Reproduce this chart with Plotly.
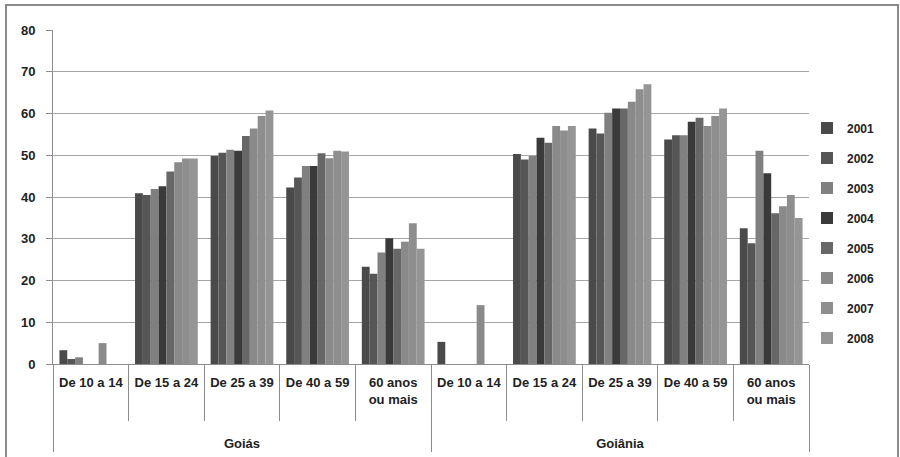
import plotly.graph_objects as go

regions = ["Goiás", "Goiânia"]
age_groups = ["De 10 a 14", "De 15 a 24", "De 25 a 39", "De 40 a 59", "60 anos<br>ou mais<br> <br> "]
years = ["2001", "2002", "2003", "2004", "2005", "2006", "2007", "2008"]

# values per year: Goiás (5 age groups) then Goiânia (5 age groups)
v2001 = [3.3, 40.9, 49.8, 42.3, 23.3, 5.3, 50.3, 56.4, 53.8, 32.5]
v2002 = [1.2, 40.5, 50.6, 44.7, 21.6, 0, 49.0, 55.2, 54.8, 28.9]
v2003 = [1.6, 41.9, 51.3, 47.4, 26.7, 0, 49.8, 60.2, 54.8, 51.1]
v2004 = [0, 42.6, 51.1, 47.4, 30.1, 0, 54.2, 61.2, 58.0, 45.7]
v2005 = [0, 46.1, 54.6, 50.5, 27.6, 0, 53.0, 61.2, 59.0, 36.1]
v2006 = [5.0, 48.3, 56.4, 49.3, 29.3, 14.1, 57.0, 62.8, 57.0, 37.8]
v2007 = [0, 49.2, 59.4, 51.1, 33.7, 0, 55.9, 65.8, 59.4, 40.5]
v2008 = [0, 49.2, 60.7, 50.9, 27.6, 0, 57.0, 67.0, 61.2, 35.0]

series = [v2001, v2002, v2003, v2004, v2005, v2006, v2007, v2008]
colors = ["#4a4a4a", "#565656", "#808080", "#3a3a3a", "#676767", "#8a8a8a", "#8e8e8e", "#959595"]

outer = [r for r in regions for _ in age_groups]
inner = [a for _ in regions for a in age_groups]

fig = go.Figure()
for yr, vals, c in zip(years, series, colors):
    fig.add_trace(go.Bar(
        x=[outer, inner], y=vals, name=yr,
        marker=dict(color=c, line=dict(width=0)),
        legendgroup=yr,
    ))

W, H = 900, 457

fig.update_layout(
    width=W, height=H,
    paper_bgcolor="white", plot_bgcolor="white",
    margin=dict(l=53, r=91, t=30, b=93, autoexpand=False),
    barmode="group", bargap=0.17, bargroupgap=0,
    font=dict(family="Liberation Sans, Arial, sans-serif", color="#222222"),
    showlegend=True,
    legend=dict(
        xref="container", yref="container",
        x=807 / W, y=1 - 113.5 / H, xanchor="left", yanchor="top",
        font=dict(family="Liberation Sans, Arial, sans-serif", size=12, color="#222222", weight="bold"),
        tracegroupgap=11, itemwidth=30, bgcolor="rgba(0,0,0,0)", maxheight=1,
    ),
    xaxis=dict(
        type="multicategory", automargin=False,
        showline=True, linecolor="#8c8c8c", linewidth=1,
        showdividers=True, dividercolor="#8c8c8c", dividerwidth=1,
        ticks="outside", tickson="boundaries", ticklen=56, tickcolor="#8c8c8c",
        tickangle=0, ticklabelstandoff=6,
        tickfont=dict(family="Liberation Sans, Arial, sans-serif", size=13, color="#222222", weight="bold"),
        showgrid=False,
    ),
    yaxis=dict(
        range=[0, 80], dtick=10, automargin=False,
        showgrid=True, gridcolor="#a6a6a6", gridwidth=1,
        showline=True, linecolor="#8c8c8c", linewidth=1,
        ticks="outside", ticklen=6, tickcolor="#8c8c8c", ticklabelstandoff=8,
        tickfont=dict(family="Liberation Sans, Arial, sans-serif", size=13, color="#222222", weight="bold"),
        zeroline=False,
    ),
    shapes=[dict(type="rect", xref="paper", yref="paper",
                 x0=-47/756, x1=(898-53)/756, y0=-0.5, y1=1 + 25/334,
                 line=dict(color="#8a8a8a", width=2), fillcolor="rgba(0,0,0,0)", layer="below")],
)

fig.write_html("out.html", config={"displayModeBar": False},
               post_script="document.body.style.margin='0';document.body.style.overflow='hidden';")
